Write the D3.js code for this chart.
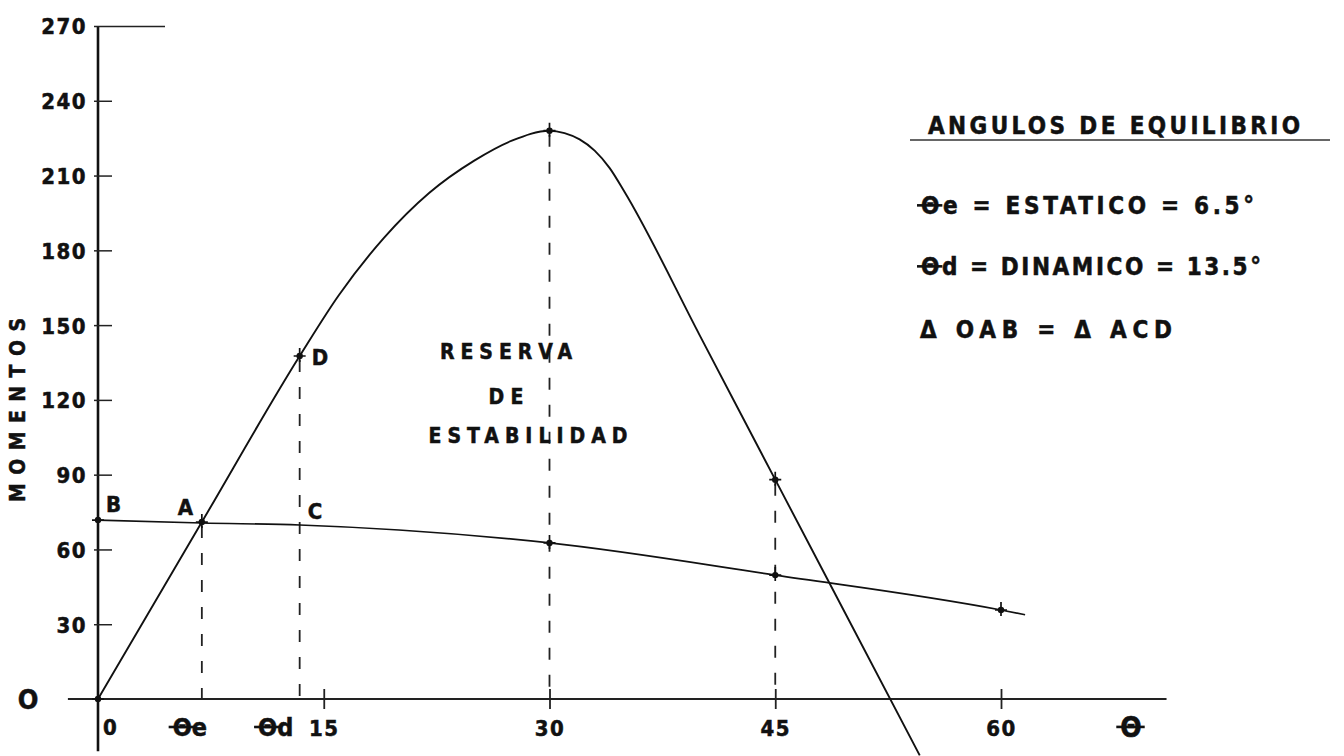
<!DOCTYPE html>
<html><head><meta charset="utf-8">
<script src="https://cdn.jsdelivr.net/npm/d3@7"></script>
<style>
html,body{margin:0;padding:0;background:#fff;}
svg{display:block;}
text{font-family:"DejaVu Sans Condensed","DejaVu Sans",sans-serif;font-weight:bold;fill:#111;stroke:#111;stroke-width:0.5px;}
</style></head><body>
<svg id="chart" width="1344" height="756"></svg>
<script>
// ---- data ----
const gzAngles  = [0, 6.9, 13.4, 16, 19, 22, 25, 27.5, 30, 31, 32, 33, 34, 35, 40, 45, 50, 54.6];
const gzMoments = [0, 71, 137.6, 162, 185, 203, 216, 224, 228, 227, 224.5, 220, 213, 203.3, 145.7, 88, 30.4, -22.6];
const heelAngles  = [0, 6.9, 13.4, 20, 30, 45, 60, 61.6];
const heelMoments = [71.8, 70.6, 69.8, 67.8, 62.6, 49.7, 35.7, 33.8];
const yTickValues = [30, 60, 90, 120, 150, 180, 210, 240, 270];
const xTickValues = [15, 30, 45, 60];
const gzMarkedAngles = [0, 6.9, 13.4, 30, 45];
const heelMarkedAngles = [0, 30, 45, 60];
const dropAngles = [6.9, 13.4, 30, 45];
const thetaE = 6.9, thetaD = 13.4;
const reserveLines = ["RESERVA", "DE", "ESTABILIDAD"];
const legendTitle = "ANGULOS DE EQUILIBRIO";
const legendLines = ["Θe = ESTATICO = 6.5°", "Θd = DINAMICO = 13.5°", "Δ OAB = Δ ACD"];
const yAxisTitle = "MOMENTOS";

// ---- scales ----
const svg = d3.select("#chart");
const x = d3.scaleLinear().domain([0, 60]).range([98, 1001]);
const y = d3.scaleLinear().domain([0, 270]).range([699, 26]);
const gzAt = a => gzMoments[gzAngles.indexOf(a)];
const heelAt = a => heelMoments[heelAngles.indexOf(a)];

// theta bar helper: extends the bar of a leading Θ glyph
function thetaBar(sel, fs) {
  sel.each(function () {
    const t = this.textContent;
    if (t[0] !== "Θ") return;
    const e = this.getExtentOfChar(0);
    const by = +this.getAttribute("y") - 0.36 * fs;
    svg.append("line").attr("x1", e.x - 4).attr("x2", e.x + e.width + 3).attr("y1", by).attr("y2", by)
      .attr("stroke", "#111").attr("stroke-width", 2.6);
  });
}

// ---- axes lines ----
svg.append("line").attr("x1", x(0)).attr("x2", x(0)).attr("y1", y(270)).attr("y2", y(-21))
  .attr("stroke", "#111").attr("stroke-width", 2.6);
svg.append("line").attr("x1", x(-2)).attr("x2", x(71)).attr("y1", y(0)).attr("y2", y(0))
  .attr("stroke", "#222").attr("stroke-width", 1.8);

// y axis ticks
const yAx = svg.append("g").attr("transform", `translate(${x(0)},0)`)
  .call(d3.axisLeft(y).tickValues(yTickValues).tickSizeInner(-14).tickSizeOuter(0).tickPadding(11).tickFormat(d3.format("d")));
yAx.select(".domain").remove();
yAx.selectAll(".tick line").attr("x1", -4).attr("stroke", "#222").attr("stroke-width", 1.5)
  .filter(d => d === 270).attr("x2", 67).attr("stroke-width", 1.3);
yAx.selectAll(".tick text").attr("font-size", 22).attr("letter-spacing", 1.5).attr("fill", "#111")
  .attr("font-family", null).attr("dy", "0.36em");

// x axis ticks
const xAx = svg.append("g").attr("transform", `translate(0,${y(0)})`)
  .call(d3.axisBottom(x).tickValues(xTickValues).tickSizeInner(10).tickSizeOuter(0).tickPadding(11));
xAx.select(".domain").remove();
xAx.selectAll(".tick line").attr("y1", -10).attr("stroke", "#222").attr("stroke-width", 1.8);
xAx.selectAll(".tick text").attr("font-size", 22).attr("letter-spacing", 1.5).attr("fill", "#111")
  .attr("font-family", null);

// extra axis labels
svg.append("text").attr("x", x(0) + 5).attr("y", y(0) + 36).attr("font-size", 22).text("0");
const axTheta = svg.append("g");
axTheta.append("text").attr("x", x(thetaE) - 12).attr("y", y(0) + 37).attr("font-size", 25).attr("text-anchor", "middle").text("Θe");
axTheta.append("text").attr("x", x(thetaD) - 24).attr("y", y(0) + 37).attr("font-size", 25).attr("text-anchor", "middle").text("Θd");
thetaBar(axTheta.selectAll("text"), 25);
const bigTheta = svg.append("text").attr("x", 1131).attr("y", y(0) + 38).attr("font-size", 28).attr("text-anchor", "middle").text("Θ");
thetaBar(bigTheta, 28);
svg.append("text").attr("x", 28).attr("y", y(0) + 10).attr("font-size", 27).attr("text-anchor", "middle")
  .attr("font-family", "'Liberation Serif','DejaVu Serif',serif").text("O");

// y axis title
svg.append("text").attr("transform", `translate(25,${410}) rotate(-90)`).attr("text-anchor", "middle")
  .attr("font-size", 21).attr("textLength", 184).attr("lengthAdjust", "spacing").text(yAxisTitle);

// ---- dashed drop lines ----
svg.selectAll(".drop").data(dropAngles).join("line").attr("class", "drop")
  .attr("x1", d => x(d)).attr("x2", d => x(d)).attr("y1", d => y(gzAt(d)) + 4).attr("y2", y(0))
  .attr("stroke", "#222").attr("stroke-width", 1.8).attr("stroke-dasharray", "12,15");

// ---- curves ----
const line = d3.line().x(d => x(d[0])).y(d => y(d[1])).curve(d3.curveMonotoneX);
svg.append("path").datum(gzAngles.map((a, i) => [a, gzMoments[i]])).attr("d", line)
  .attr("fill", "none").attr("stroke", "#111").attr("stroke-width", 1.9);
svg.append("path").datum(heelAngles.map((a, i) => [a, heelMoments[i]])).attr("d", line)
  .attr("fill", "none").attr("stroke", "#111").attr("stroke-width", 1.7);

// markers
const markerPts = gzMarkedAngles.map(a => [a, gzAt(a)]).concat(heelMarkedAngles.map(a => [a, heelAt(a)]));
const mk = svg.selectAll(".mk").data(markerPts).join("g").attr("class", "mk")
  .attr("transform", d => `translate(${x(d[0])},${y(d[1])})`);
mk.append("circle").attr("r", 3.2).attr("fill", "#111");
mk.append("path").attr("d", "M-6,0H6M0,-8V6").attr("stroke", "#111").attr("stroke-width", 1.7);

// point letters
const ptLabels = [
  {t: "B", a: 0, v: heelAt(0), dx: 8, dy: -8},
  {t: "A", a: thetaE, v: heelAt(thetaE), dx: -24, dy: -8},
  {t: "C", a: thetaD, v: heelAt(thetaD), dx: 8, dy: -6},
  {t: "D", a: thetaD, v: gzAt(thetaD), dx: 12, dy: 9}
];
svg.selectAll(".pl").data(ptLabels).join("text").attr("class", "pl")
  .attr("x", d => x(d.a) + d.dx).attr("y", d => y(d.v) + d.dy).attr("font-size", 22).text(d => d.t);

// reserve text
const reserveX = [506, 506, 528], reserveY = [359, 404, 443], reserveW = [132, 35, 199];
svg.selectAll(".rs").data(reserveLines).join("text").attr("class", "rs")
  .attr("x", (d, i) => reserveX[i]).attr("y", (d, i) => reserveY[i]).attr("text-anchor", "middle")
  .attr("font-size", 21).attr("textLength", (d, i) => reserveW[i]).attr("lengthAdjust", "spacing").text(d => d);

// legend
svg.append("text").attr("x", 928).attr("y", 134).attr("font-size", 24)
  .attr("textLength", 372).attr("lengthAdjust", "spacing").text(legendTitle);
svg.append("line").attr("x1", 910).attr("x2", 1330).attr("y1", 140).attr("y2", 140)
  .attr("stroke", "#333").attr("stroke-width", 1.6);
const legY = [214, 275, 338], legW = [333, 340, 252];
const leg = svg.selectAll(".lg").data(legendLines).join("text").attr("class", "lg")
  .attr("x", (d, i) => i === 2 ? 920 : 921).attr("y", (d, i) => legY[i]).attr("font-size", 24)
  .attr("textLength", (d, i) => legW[i]).attr("lengthAdjust", "spacing").text(d => d);
thetaBar(leg, 24);
</script>
</body></html>
